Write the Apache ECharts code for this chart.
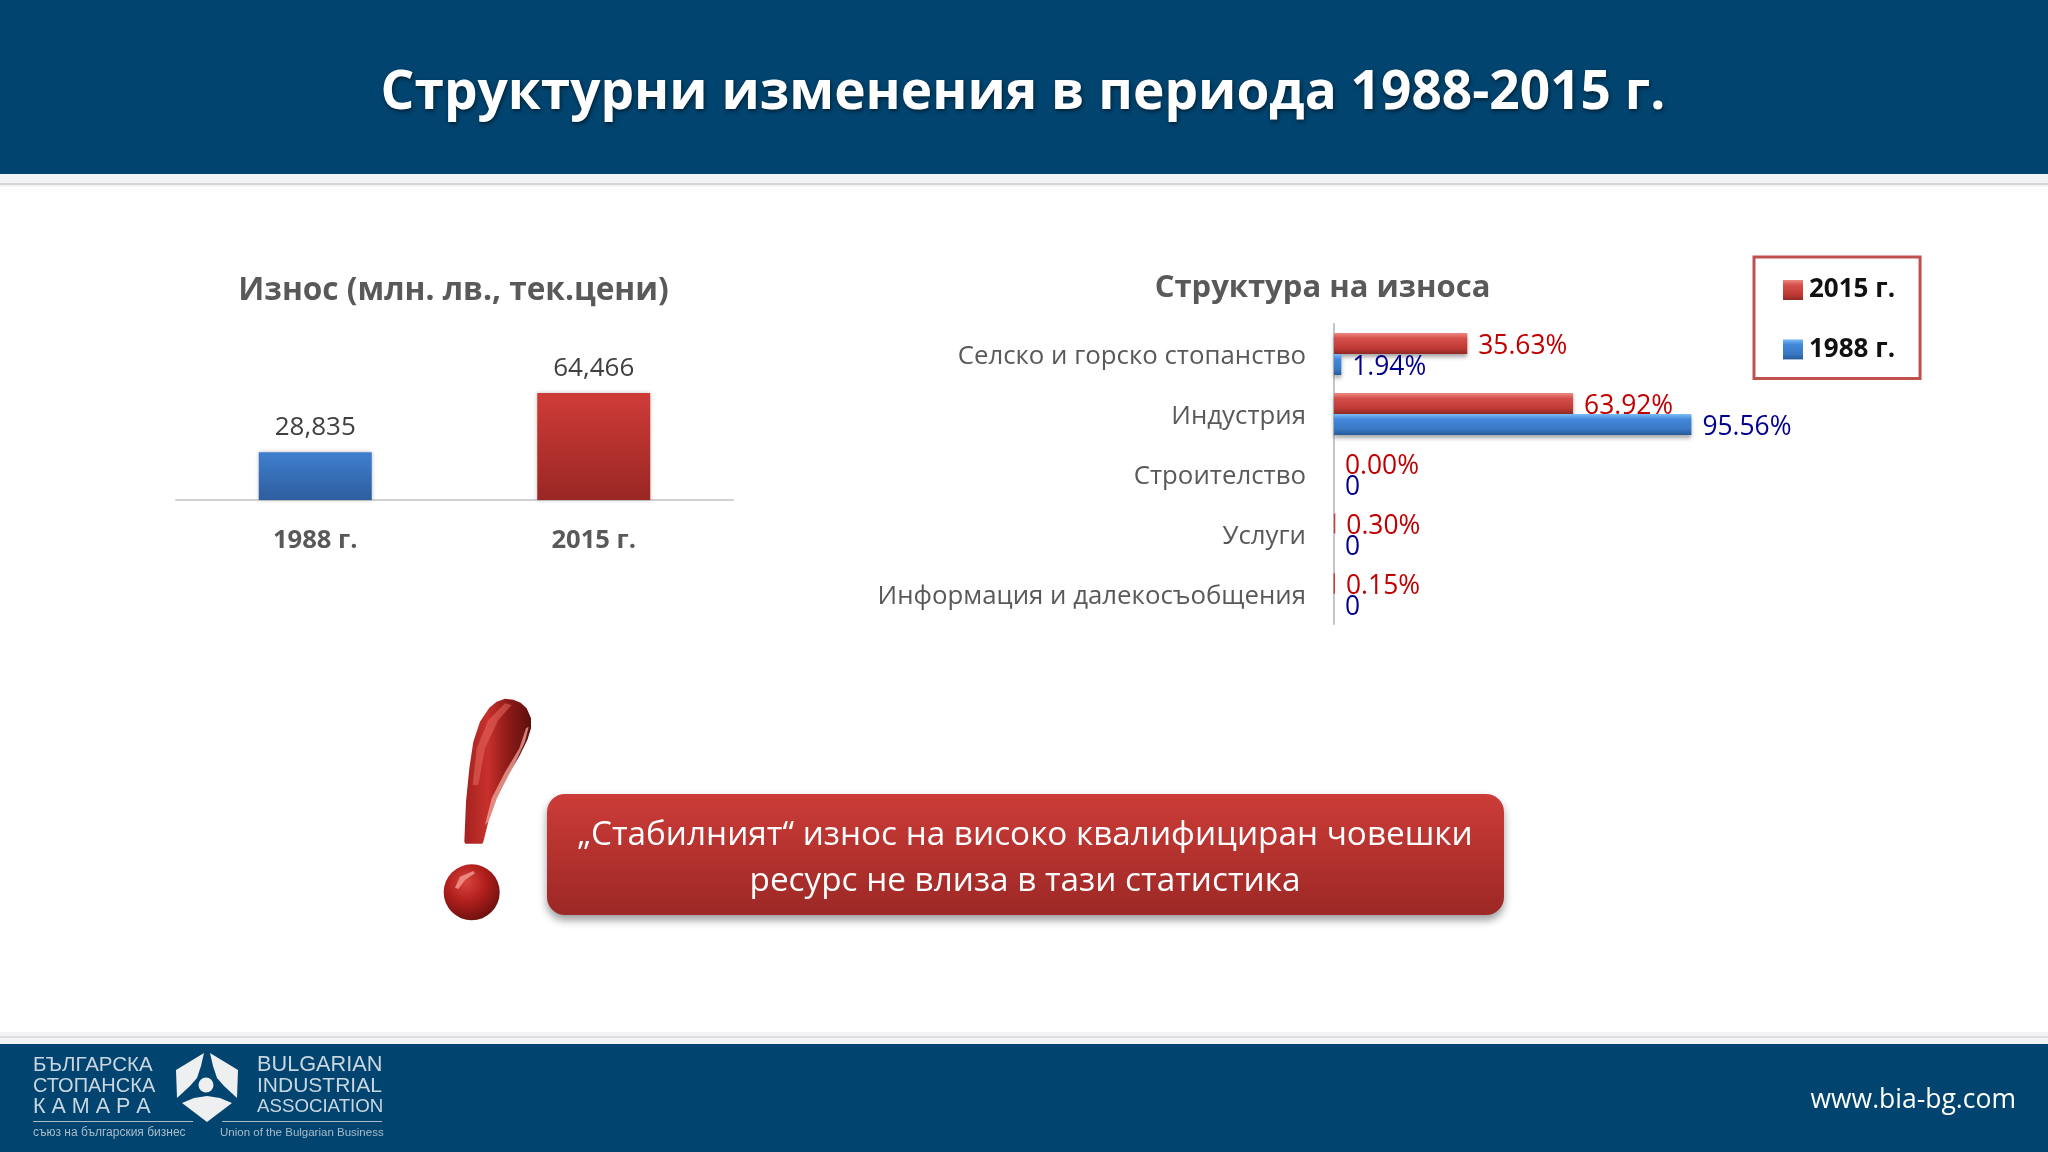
<!DOCTYPE html>
<html><head><meta charset="utf-8">
<style>html,body{margin:0;padding:0;background:#fff}#c{width:2048px;height:1152px}</style>
<script src="https://cdn.jsdelivr.net/npm/echarts@6/dist/echarts.min.js"></script>
</head><body><div id="c"></div>
<script>
const exportYears = ['1988 г.', '2015 г.'];
const exportValues = [28835, 64466];
const sectors = ['Селско и горско стопанство', 'Индустрия', 'Строителство', 'Услуги', 'Информация и далекосъобщения'];
const share2015 = [35.63, 63.92, 0, 0.30, 0.15];
const share1988 = [1.94, 95.56, 0, 0, 0];
const legendNames = ['2015 г.', '1988 г.'];
const mainTitle = 'Структурни изменения в периода 1988-2015 г.';
const leftTitle = 'Износ (млн. лв., тек.цени)';
const rightTitle = 'Структура на износа';
const calloutText = '„Стабилният“ износ на високо квалифициран човешки\nресурс не влиза в тази статистика';
const siteText = 'www.bia-bg.com';

const FONT = '"Open Sans", sans-serif';
const v = (a, b) => new echarts.graphic.LinearGradient(0, 0, 0, 1, [{offset: 0, color: a}, {offset: 1, color: b}]);
const gloss = (a, b, c, d) => new echarts.graphic.LinearGradient(0, 0, 0, 1, [
  {offset: 0, color: a}, {offset: 0.25, color: b}, {offset: 0.72, color: c}, {offset: 1, color: d}]);
const redGloss = gloss('#EE8A84', '#D5504A', '#C03A35', '#8F2A26');
const blueGloss = gloss('#7CBDF5', '#4288DC', '#3A78C4', '#275A98');
const NAVY = '#00446F';

const colTop = [v('#3F7FCE', '#2E5E9E'), v('#CF3C38', '#9A2623')];
const lt = (x, y, text, size, fill) => ({type: 'text', silent: true, z: 6,
  style: {x, y, text, fill, fontFamily: '"Liberation Sans"', fontSize: size, verticalAlign: 'middle'}});
const poly = (points, fill, z) => ({type: 'polygon', silent: true, z: z || 6, shape: {points}, style: {fill}});
const mark = pts => pts.map(([x, y]) => [430 + x / 3, 685 + y / 3]);

const chart = echarts.init(document.getElementById('c'), null, {renderer: 'canvas', width: 2048, height: 1152});
chart.setOption({
  animation: false,
  backgroundColor: '#fff',
  title: [
    {text: mainTitle, left: 1018, top: 89, textAlign: 'center', textVerticalAlign: 'middle',
      textStyle: {color: '#fff', fontFamily: FONT, fontWeight: 'bold', fontSize: 53.2,
        textShadowColor: 'rgba(0,0,0,0.55)', textShadowBlur: 4, textShadowOffsetX: 1, textShadowOffsetY: 2}},
    {text: leftTitle, left: 448.5, top: 286, textAlign: 'center', textVerticalAlign: 'middle',
      textStyle: {color: '#595959', fontFamily: FONT, fontWeight: 'bold', fontSize: 31.6}},
    {text: rightTitle, left: 1317.5, top: 283, textAlign: 'center', textVerticalAlign: 'middle',
      textStyle: {color: '#595959', fontFamily: FONT, fontWeight: 'bold', fontSize: 31}}
  ],
  legend: {
    data: legendNames, orient: 'vertical', left: 1754, top: 257,
    padding: [20, 25, 16, 29], itemWidth: 20, itemHeight: 20, itemGap: 33.4,
    borderColor: '#C0504D', borderWidth: 3, backgroundColor: '#fff',
    selectedMode: false, icon: 'rect',
    textStyle: {color: '#111', fontFamily: FONT, fontWeight: 'bold', fontSize: 26, padding: [0, 0, 0, 1]}
  },
  grid: [
    {left: 176, top: 301, width: 557, height: 199},
    {left: 1334, top: 324, width: 374, height: 300}
  ],
  xAxis: [
    {type: 'category', gridIndex: 0, data: exportYears,
      axisLine: {lineStyle: {color: '#D0D0D5', width: 2}}, axisTick: {show: false},
      axisLabel: {margin: 28, color: '#595959', fontFamily: FONT, fontWeight: 'bold', fontSize: 25.6}},
    {type: 'value', gridIndex: 1, min: 0, max: 100, show: false, splitLine: {show: false}}
  ],
  yAxis: [
    {type: 'value', gridIndex: 0, min: 0, max: 120000, show: false, splitLine: {show: false}},
    {type: 'category', gridIndex: 1, inverse: true, data: sectors,
      axisLine: {lineStyle: {color: '#C4C4CC', width: 2}}, axisTick: {show: false},
      axisLabel: {margin: 28, color: '#595959', fontFamily: FONT, fontSize: 25.8, verticalAlign: 'top', lineHeight: 5}}
  ],
  series: [
    {name: 'Износ', type: 'bar', xAxisIndex: 0, yAxisIndex: 0, barWidth: 113,
      data: exportValues.map((val, i) => ({value: val, itemStyle: {color: colTop[i]}})),
      itemStyle: {shadowColor: 'rgba(0,0,0,0.25)', shadowBlur: 4},
      label: {show: true, position: 'top', distance: 12, color: '#404040', fontFamily: FONT, fontSize: 26,
        formatter: p => p.value.toLocaleString('en-US')}},
    {name: legendNames[0], type: 'bar', xAxisIndex: 1, yAxisIndex: 1, barWidth: 21, barGap: 0,
      data: share2015.map(val => (val > 0 && val < 1)
        ? {value: val, itemStyle: {color: '#C9403B', borderColor: '#C9403B', borderWidth: 1.5, shadowBlur: 0, shadowOffsetY: 0}}
        : val),
      itemStyle: {color: redGloss, shadowColor: 'rgba(0,0,0,0.35)', shadowBlur: 4, shadowOffsetY: 3},
      label: {show: true, position: 'right', distance: 10, offset: [1, 2.5], color: '#C00000', fontFamily: FONT, fontSize: 26.4,
        formatter: p => p.value.toFixed(2) + '%'}},
    {name: legendNames[1], type: 'bar', xAxisIndex: 1, yAxisIndex: 1, barWidth: 21, barGap: 0, data: share1988,
      itemStyle: {color: blueGloss, shadowColor: 'rgba(0,0,0,0.35)', shadowBlur: 4, shadowOffsetY: 3},
      label: {show: true, position: 'right', distance: 10, offset: [1, 2.5], color: '#00008B', fontFamily: FONT, fontSize: 26.4,
        formatter: p => p.value === 0 ? '0' : p.value.toFixed(2) + '%'}}
  ],
  graphic: {elements: [
    {type: 'rect', z: -10, silent: true, shape: {x: 0, y: 0, width: 2048, height: 174}, style: {fill: NAVY}},
    {type: 'rect', z: -11, silent: true, shape: {x: 0, y: 174, width: 2048, height: 13}, style: {fill: '#F3F3F5'}},
    {type: 'rect', z: -10, silent: true, shape: {x: 0, y: 183, width: 2048, height: 2}, style: {fill: '#D6D6DA'}},
    {type: 'rect', z: -11, silent: true, shape: {x: 0, y: 1032, width: 2048, height: 12}, style: {fill: '#F3F3F5'}},
    {type: 'rect', z: -10, silent: true, shape: {x: 0, y: 1036, width: 2048, height: 2}, style: {fill: '#DEDEE2'}},
    {type: 'rect', z: -10, silent: true, shape: {x: 0, y: 1044, width: 2048, height: 108}, style: {fill: NAVY}},
    {type: 'rect', z: 5, silent: true, shape: {x: 547, y: 794, width: 957, height: 121, r: 18},
      style: {fill: v('#CC3C38', '#9C2825'), shadowColor: 'rgba(0,0,0,0.4)', shadowBlur: 8, shadowOffsetY: 5}},
    {type: 'text', z: 6, silent: true, style: {x: 1025, y: 858.5, text: calloutText, fill: '#fff', align: 'center',
      verticalAlign: 'middle', fontFamily: FONT, fontSize: 33.3, lineHeight: 46}},
    poly(mark([[103,470],[106,476],[157,476],[160,470],[175,410],[200,340],[235,270],[270,210],[292,165],[303,130],[303,100],[290,70],[272,53],[250,44],[225,41],[200,50],[178,68],[150,110],[130,170],[118,250],[108,350]]),
      new echarts.graphic.LinearGradient(0, 0, 1, 0, [
        {offset: 0, color: '#A32320'}, {offset: 0.35, color: '#C8302C'}, {offset: 0.65, color: '#8E1B18'}, {offset: 1, color: '#5C0F0D'}]), 5),
    poly(mark([[165,420],[185,340],[225,262],[268,190],[288,130],[296,125],[285,170],[245,255],[205,330],[175,410]]), 'rgba(240,170,160,0.75)'),
    poly(mark([[128,300],[140,190],[175,105],[225,55],[245,60],[205,105],[165,190],[145,300]]), 'rgba(235,110,100,0.5)'),
    {type: 'circle', z: 5, silent: true, shape: {cx: 471.7, cy: 892.3, r: 28},
      style: {fill: new echarts.graphic.RadialGradient(0.4, 0.32, 0.78, [
        {offset: 0, color: '#D8443F'}, {offset: 0.45, color: '#B01F1C'}, {offset: 1, color: '#5E0E0C'}])}},
    poly(mark([[75,608],[90,575],[130,558],[135,565],[105,585],[85,612]]), 'rgba(255,190,180,0.6)'),
    {type: 'text', z: 6, silent: true, style: {x: 2016, y: 1100, text: siteText, fill: '#fff', align: 'right',
      verticalAlign: 'middle', fontFamily: FONT, fontSize: 26.5}},
    lt(33, 1065, 'БЪЛГАРСКА', 20.5, '#C9D6E0'),
    lt(33, 1086, 'СТОПАНСКА', 20, '#C9D6E0'),
    lt(33, 1107, 'К А М А Р А', 21.5, '#C9D6E0'),
    lt(257, 1065, 'BULGARIAN', 21.7, '#C9D6E0'),
    lt(257, 1086, 'INDUSTRIAL', 21, '#C9D6E0'),
    lt(257, 1107, 'ASSOCIATION', 18.7, '#C9D6E0'),
    lt(33, 1133, 'съюз на българския бизнес', 12, '#A9BBC9'),
    lt(220, 1133, 'Union of the Bulgarian Business', 11.5, '#A9BBC9'),
    {type: 'rect', silent: true, z: 6, shape: {x: 33, y: 1121, width: 160, height: 1}, style: {fill: '#A9BBC9'}},
    {type: 'rect', silent: true, z: 6, shape: {x: 222, y: 1121, width: 160, height: 1}, style: {fill: '#A9BBC9'}},
    poly([[204,1053],[176,1070],[177,1098],[190,1086],[197,1078],[201,1066]], '#EDEFF1'),
    poly([[210,1053],[238,1070],[237,1098],[224,1086],[217,1078],[213,1066]], '#EDEFF1'),
    poly([[182,1103],[194,1098],[207,1096],[220,1098],[232,1103],[207,1122]], '#EDEFF1'),
    {type: 'circle', silent: true, z: 6, shape: {cx: 206, cy: 1085, r: 7.5}, style: {fill: '#EDEFF1'}}
  ]}
});
</script></body></html>
